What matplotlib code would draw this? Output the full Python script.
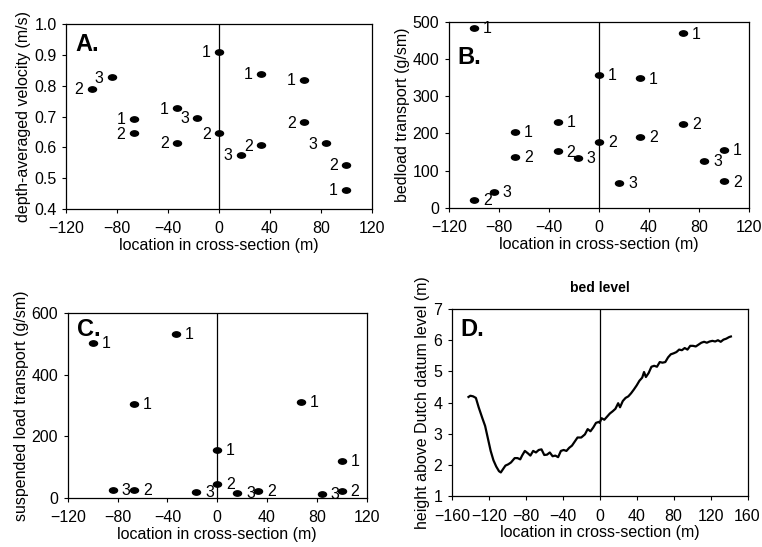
import matplotlib
matplotlib.use('Agg')
import matplotlib.pyplot as plt
import numpy as np
from matplotlib.path import Path
from matplotlib.transforms import Affine2D

plt.rcParams['font.family'] = ['Liberation Sans', 'DejaVu Sans']

# ---------------- DATA ----------------
# A. depth-averaged velocity
velX = [-100, -84, -67, -67, -33, -33, -17, 0, 0, 17, 33, 33, 67, 67, 84, 100, 100]
velY = [0.79, 0.827, 0.692, 0.645, 0.726, 0.614, 0.696, 0.91, 0.645, 0.575, 0.606, 0.837, 0.818, 0.681, 0.613, 0.544, 0.463]
velLab = ['2', '3', '1', '2', '1', '2', '3', '1', '2', '3', '2', '1', '1', '2', '3', '2', '1']

# B. bedload transport
bedX = [-100, -84, -100, -67, -67, -33, -33, -17, 0, 0, 16, 33, 33, 67, 67, 84, 100, 100]
bedY = [484, 43, 22, 204, 138, 232, 152, 134, 357, 177, 68, 348, 190, 469, 226, 127, 156, 71]
bedLab = ['1', '3', '2', '1', '2', '1', '2', '3', '1', '2', '3', '1', '2', '1', '2', '3', '1', '2']

# C. suspended load transport
susX = [-100, -84, -67, -67, -33, -17, 0, 0, 16, 33, 67, 84, 100, 100]
susY = [503, 25, 306, 25, 533, 19, 155, 46, 16, 22, 311, 12, 120, 22]
susLab = ['1', '3', '1', '2', '1', '3', '1', '2', '3', '2', '1', '3', '1', '2']

# D. bed level profile
bedLvlX = [-142, -140, -137, -134, -131, -127, -124, -121, -118, -115, -112, -109, -107,
           -105, -102, -99, -96, -92, -89, -86, -84, -81, -78, -75, -72, -69, -66, -63,
           -60, -57, -54, -51, -48, -45, -42, -39, -36, -33, -30, -27, -24, -20, -16, -13,
           -10, -7, -4, -1, 0, 2, 5, 8, 11, 14, 17, 20, 22, 25, 28, 31, 34, 37, 40, 43,
           46, 48, 50, 53, 56, 59, 62, 65, 68, 71, 74, 77, 80, 83, 86, 89, 92, 95, 98,
           101, 104, 107, 110, 113, 116, 119, 122, 125, 128, 131, 134, 137, 140, 142]
bedLvlY = [4.18, 4.22, 4.20, 4.15, 3.85, 3.50, 3.25, 2.85, 2.45, 2.15, 1.95, 1.80, 1.76,
           1.85, 1.98, 2.02, 2.08, 2.22, 2.22, 2.18, 2.30, 2.45, 2.38, 2.30, 2.45, 2.40,
           2.48, 2.50, 2.32, 2.33, 2.40, 2.28, 2.30, 2.25, 2.45, 2.48, 2.45, 2.55, 2.62,
           2.75, 2.88, 2.88, 2.98, 3.15, 3.08, 3.20, 3.35, 3.38, 3.35, 3.50, 3.45, 3.55,
           3.65, 3.72, 3.80, 3.98, 3.85, 4.05, 4.15, 4.20, 4.30, 4.42, 4.55, 4.70, 4.80,
           4.98, 4.82, 4.95, 5.15, 5.18, 5.15, 5.30, 5.28, 5.30, 5.45, 5.55, 5.58, 5.62,
           5.70, 5.68, 5.75, 5.70, 5.82, 5.82, 5.80, 5.86, 5.92, 5.95, 5.92, 5.96, 5.98,
           5.96, 6.00, 5.95, 6.02, 6.05, 6.10, 6.12]

XLABEL = 'location in cross-section (m)'
FS = 11.5

# ellipse marker (dots look squashed in the scan)
circ = Path.unit_circle()
ELL = Path(Affine2D().scale(1.5, 1.0).transform(circ.vertices), circ.codes)


def styleAxes(ax):
	for s in ax.spines.values():
		s.set_linewidth(0.9)
	ax.tick_params(direction='out', length=3, width=0.8, labelsize=FS)
	ax.tick_params(axis='x', pad=6)
	ax.tick_params(axis='y', pad=4)
	ax.axvline(0, color='black', linewidth=0.9)


def scatterPanel(ax, xs, ys, labs, dx, letter, ly=0.95):
	ax.plot(xs, ys, linestyle='none', marker=ELL, markersize=5.8, color='black')
	ha = 'right' if dx < 0 else 'left'
	for x, y, t in zip(xs, ys, labs):
		ax.annotate(t, (x, y), xytext=(dx, -0.5), textcoords='offset points',
					ha=ha, va='center', fontsize=FS)
	ax.text(0.03, ly, letter, transform=ax.transAxes, fontsize=17,
			fontweight='bold', va='top', ha='left')
	styleAxes(ax)


fig = plt.figure(figsize=(7.62, 5.47), dpi=100)

# A.
axA = fig.add_axes([0.087, 0.618, 0.401, 0.338])
scatterPanel(axA, velX, velY, velLab, -6, 'A.')
axA.set_xlim(-120, 120)
axA.set_ylim(0.4, 1.0)
axA.set_xticks(np.arange(-120, 121, 40))
axA.set_yticks(np.arange(0.4, 1.01, 0.1))
axA.set_yticklabels(['%.1f' % v for v in np.arange(0.4, 1.01, 0.1)])
axA.set_xlabel(XLABEL, fontsize=FS, labelpad=1)
axA.set_ylabel('depth-averaged velocity (m/s)', fontsize=FS, labelpad=2)

# B.
axB = fig.add_axes([0.589, 0.620, 0.394, 0.340])
scatterPanel(axB, bedX, bedY, bedLab, 6.5, 'B.', ly=0.87)
axB.set_xlim(-120, 120)
axB.set_ylim(0, 500)
axB.set_xticks(np.arange(-120, 121, 40))
axB.set_yticks(np.arange(0, 501, 100))
axB.set_xlabel(XLABEL, fontsize=FS, labelpad=1)
axB.set_ylabel('bedload transport (g/sm)', fontsize=FS, labelpad=2)

# C.
axC = fig.add_axes([0.089, 0.0896, 0.392, 0.338])
scatterPanel(axC, susX, susY, susLab, 6.5, 'C.', ly=0.975)
axC.set_xlim(-120, 120)
axC.set_ylim(0, 600)
axC.set_xticks(np.arange(-120, 121, 40))
axC.set_yticks(np.arange(0, 601, 200))
axC.set_xlabel(XLABEL, fontsize=FS, labelpad=1)
axC.set_ylabel('suspended load transport (g/sm)', fontsize=FS, labelpad=2)

# D.
axD = fig.add_axes([0.593, 0.093, 0.388, 0.342])
axD.plot(bedLvlX, bedLvlY, color='black', linewidth=1.6)
axD.text(0.03, 0.95, 'D.', transform=axD.transAxes, fontsize=17,
		 fontweight='bold', va='top', ha='left')
styleAxes(axD)
axD.set_xlim(-160, 160)
axD.set_ylim(1, 7)
axD.set_xticks(np.arange(-160, 161, 40))
axD.set_yticks(np.arange(1, 8, 1))
axD.set_xlabel(XLABEL, fontsize=FS, labelpad=1)
axD.set_ylabel('height above Dutch datum level (m)', fontsize=FS, labelpad=2)
axD.set_title('bed level', fontsize=10, fontweight='bold', pad=12)

plt.savefig('out.png', dpi=100)
